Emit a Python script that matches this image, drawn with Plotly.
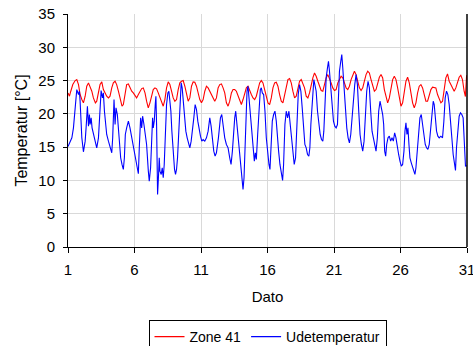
import plotly.graph_objects as go

# Zone 41 indoor temperature (day of month, °C)
zone_day = [1.0, 1.11, 1.21, 1.36, 1.54, 1.66, 1.79, 1.91, 2.04, 2.16, 2.29, 2.41, 2.54, 2.66, 2.79, 2.91,
            3.06, 3.16, 3.29, 3.41, 3.54, 3.66, 3.79, 3.91, 4.04, 4.16, 4.29, 4.41, 4.54, 4.66, 4.79, 4.91,
            5.06, 5.16, 5.29, 5.41, 5.54, 5.66, 5.79, 5.91, 6.04, 6.16, 6.29, 6.41, 6.54, 6.66, 6.79, 6.91,
            7.035, 7.16, 7.285, 7.41, 7.535, 7.66, 7.785, 7.91, 8.035, 8.16, 8.285, 8.41, 8.535, 8.66, 8.785,
            8.91, 9.035, 9.16, 9.285, 9.41, 9.535, 9.66, 9.785, 9.91, 10.035, 10.16, 10.285, 10.41, 10.535,
            10.66, 10.785, 10.91, 11.035, 11.16, 11.285, 11.41, 11.535, 11.66, 11.785, 11.91, 12.035, 12.16,
            12.285, 12.41, 12.535, 12.66, 12.785, 12.91, 13.035, 13.16, 13.285, 13.41, 13.535, 13.66, 13.785,
            13.91, 14.035, 14.16, 14.285, 14.41, 14.535, 14.66, 14.785, 14.91, 15.035, 15.16, 15.285, 15.41,
            15.535, 15.66, 15.785, 15.91, 16.035, 16.16, 16.285, 16.41, 16.535, 16.66, 16.785, 16.91, 17.035,
            17.16, 17.285, 17.41, 17.535, 17.66, 17.785, 17.91, 18.035, 18.16, 18.285, 18.41, 18.535, 18.66,
            18.785, 18.91, 19.035, 19.16, 19.285, 19.41, 19.535, 19.66, 19.785, 19.91, 20.035, 20.16, 20.285,
            20.41, 20.535, 20.66, 20.785, 20.91, 21.035, 21.16, 21.285, 21.41, 21.535, 21.66, 21.785, 21.91,
            22.035, 22.16, 22.285, 22.41, 22.535, 22.66, 22.785, 22.91, 23.035, 23.16, 23.285, 23.41, 23.535,
            23.66, 23.785, 23.91, 24.035, 24.16, 24.285, 24.41, 24.535, 24.66, 24.785, 24.91, 25.035, 25.16,
            25.285, 25.41, 25.535, 25.66, 25.785, 25.91, 26.035, 26.16, 26.285, 26.41, 26.535, 26.66, 26.785,
            26.91, 27.035, 27.16, 27.285, 27.41, 27.535, 27.66, 27.785, 27.91, 28.035, 28.16, 28.285, 28.41,
            28.535, 28.66, 28.785, 28.91, 29.035, 29.16, 29.285, 29.41, 29.535, 29.66, 29.785, 29.91, 30.035,
            30.16, 30.285, 30.41, 30.535, 30.66, 30.785, 30.88, 30.97]
zone_temp = [23.15, 22.65, 23.4, 24.4, 25.0, 25.15, 24.4, 22.9, 22.15, 21.65, 22.65, 24.15, 24.65, 24.15, 23.4, 22.4,
             21.65, 21.9, 23.4, 24.4, 24.8, 23.65, 23.15, 22.65, 22.4, 22.65, 23.9, 24.65, 24.9, 24.4, 23.4, 22.15,
             21.15, 21.4, 23.4, 24.4, 24.5, 23.9, 23.4, 23.15, 22.65, 22.4, 22.9, 23.4, 23.8, 23.9, 23.15, 21.9,
             20.9, 21.65, 22.9, 23.65, 23.9, 23.75, 23.15, 22.4, 21.65, 21.15, 22.15, 23.9, 24.8, 24.4, 23.4,
             22.4, 21.9, 22.15, 23.65, 24.65, 24.9, 25.0, 24.15, 22.9, 21.9, 22.4, 24.15, 24.8, 24.75,
             24.15, 23.15, 22.15, 21.65, 22.15, 23.4, 24.15, 23.9, 23.4, 22.9, 22.4, 21.9, 22.4,
             23.9, 24.4, 24.5, 23.9, 23.15, 21.65, 21.15, 21.9, 23.15, 23.65, 23.65, 23.4, 22.65,
             21.9, 21.4, 22.15, 23.15, 23.9, 24.15, 23.4, 22.9, 22.4, 22.15, 22.65, 23.9, 24.65,
             25.0, 24.65, 23.65, 22.65, 21.65, 21.4, 22.4, 23.9, 24.65, 24.75, 24.15, 22.9, 21.9,
             21.65, 22.9, 24.4, 25.15, 25.3, 24.65, 23.4, 22.4, 22.65, 23.9, 24.9, 25.15, 24.65,
             23.9, 22.65, 22.4, 23.15, 24.4, 25.4, 26.15, 25.65, 24.9, 24.15, 23.5, 23.4, 24.4,
             25.4, 25.9, 25.4, 24.65, 23.9, 23.5, 23.65, 24.65, 25.15, 25.65, 25.4, 24.65, 23.9,
             23.65, 24.15, 25.15, 25.9, 26.4, 25.9, 24.9, 23.9, 23.5, 23.9, 24.9, 25.9, 26.4,
             26.15, 25.15, 24.15, 23.4, 23.65, 24.65, 25.5, 25.9, 25.4, 23.65, 22.4, 21.65, 22.4,
             23.9, 25.15, 25.65, 25.15, 23.9, 22.15, 21.15, 21.65, 23.4, 24.9, 25.5, 24.65, 23.15,
             21.65, 20.9, 21.65, 23.15, 24.15, 24.4, 23.9, 22.9, 21.9, 21.9, 22.9, 23.65, 24.0,
             23.9, 23.9, 22.9, 22.15, 21.65, 21.9, 23.4, 25.4, 26.0, 24.9, 24.4, 23.9, 23.4,
             23.9, 24.9, 25.5, 25.8, 25.15, 23.4, 22.6, 25.8]

# Outdoor temperature (day of month, °C)
ude_day = [1.0, 1.29, 1.41, 1.54, 1.61, 1.66, 1.79, 1.86, 1.91, 1.99, 2.04, 2.16, 2.29, 2.36, 2.41, 2.46, 2.54,
           2.61, 2.66, 2.74, 2.81, 2.91, 3.04, 3.16, 3.29, 3.36, 3.41, 3.49, 3.59, 3.66, 3.74, 3.84, 3.91,
           4.04, 4.16, 4.29, 4.36, 4.41, 4.46, 4.54, 4.61, 4.71, 4.79, 4.86, 4.96, 5.06, 5.16, 5.24, 5.31,
           5.41, 5.54, 5.66, 5.79, 5.91, 6.04, 6.16, 6.29, 6.36, 6.46, 6.54, 6.61, 6.71, 6.79, 6.91,
           7.04, 7.11, 7.21, 7.285, 7.36, 7.41, 7.485, 7.56, 7.61, 7.66, 7.71, 7.735, 7.81, 7.86, 7.91,
           8.01, 8.085, 8.16, 8.235, 8.31, 8.41, 8.51, 8.585, 8.66, 8.735, 8.81, 8.91, 9.01, 9.085, 9.16,
           9.235, 9.31, 9.36, 9.435, 9.51, 9.585, 9.66, 9.76, 9.86, 9.96, 10.06, 10.16, 10.26, 10.36,
           10.46, 10.56, 10.66, 10.76, 10.86, 10.96, 11.06, 11.16, 11.285, 11.41, 11.535, 11.66, 11.76,
           11.86, 11.96, 12.06, 12.16, 12.31, 12.46, 12.56, 12.66, 12.785, 12.91, 13.035, 13.16, 13.26,
           13.36, 13.46, 13.535, 13.61, 13.71, 13.81, 13.91, 14.01, 14.085, 14.16, 14.235, 14.31, 14.385,
           14.46, 14.535, 14.61, 14.71, 14.81, 14.91, 15.01, 15.085, 15.16, 15.26, 15.36, 15.46, 15.535,
           15.61, 15.71, 15.81, 15.91, 16.01, 16.11, 16.185, 16.26, 16.36, 16.46, 16.56, 16.66, 16.735,
           16.835, 16.935, 17.035, 17.135, 17.21, 17.31, 17.41, 17.51, 17.61, 17.71, 17.81, 17.91, 18.01,
           18.11, 18.21, 18.31, 18.41, 18.51, 18.61, 18.71, 18.81, 18.91, 19.01, 19.11, 19.185, 19.26,
           19.335, 19.41, 19.485, 19.56, 19.66, 19.76, 19.86, 19.96, 20.06, 20.16, 20.235, 20.31, 20.41,
           20.51, 20.585, 20.66, 20.76, 20.86, 20.96, 21.06, 21.16, 21.26, 21.335, 21.41, 21.51, 21.585,
           21.66, 21.76, 21.86, 21.96, 22.06, 22.16, 22.26, 22.36, 22.46, 22.56, 22.66, 22.76, 22.86,
           22.96, 23.06, 23.16, 23.26, 23.36, 23.46, 23.56, 23.66, 23.76, 23.86, 23.96, 24.06, 24.16,
           24.26, 24.36, 24.46, 24.56, 24.66, 24.735, 24.81, 24.885, 24.96, 25.06, 25.16, 25.26, 25.36,
           25.46, 25.56, 25.66, 25.76, 25.86, 25.96, 26.06, 26.16, 26.26, 26.335, 26.41, 26.485, 26.56,
           26.635, 26.71, 26.81, 26.91, 27.01, 27.085, 27.16, 27.26, 27.36, 27.46, 27.56, 27.66, 27.76,
           27.86, 27.96, 28.06, 28.16, 28.26, 28.36, 28.46, 28.535, 28.61, 28.71, 28.81, 28.91, 29.035,
           29.16, 29.26, 29.36, 29.46, 29.56, 29.66, 29.76, 29.86, 29.96, 30.06, 30.135, 30.21, 30.31,
           30.41, 30.51, 30.61, 30.71, 30.81, 30.885, 31.0]
ude_temp = [15.1, 16.4, 17.9, 21.4, 23.4, 23.65, 22.9, 23.4, 21.9, 18.9, 16.4, 14.3, 15.9, 17.9, 20.9, 21.15, 18.15,
            19.9, 18.4, 19.4, 17.9, 16.9, 15.9, 14.9, 16.4, 18.9, 22.4, 23.5, 22.4, 23.15, 20.4, 18.4, 16.9,
            15.9, 14.9, 14.15, 16.4, 21.4, 22.15, 18.4, 20.9, 19.9, 17.4, 15.4, 13.4, 12.4, 11.65, 13.4, 16.9,
            17.9, 18.9, 17.9, 16.4, 14.9, 13.4, 11.9, 11.0, 14.9, 19.4, 17.9, 19.65, 18.4, 16.9, 15.4,
            11.4, 9.9, 11.9, 15.4, 19.4, 17.9, 18.9, 21.4, 22.65, 18.4, 12.4, 7.9, 10.9, 13.4, 11.4,
            10.9, 11.9, 10.4, 12.4, 16.4, 21.4, 23.15, 23.4, 21.9, 20.4, 17.4, 13.4, 11.65, 10.9, 11.65,
            13.4, 16.4, 20.4, 22.4, 24.65, 23.9, 21.9, 19.4, 17.4, 16.4, 15.65, 14.9, 15.9, 17.4,
            19.4, 21.4, 20.65, 18.9, 17.4, 16.65, 15.9, 16.15, 15.9, 16.4, 17.4, 19.4, 18.15,
            16.4, 14.4, 13.65, 14.15, 16.4, 19.4, 19.9, 18.15, 16.4, 15.4, 14.9, 13.4, 12.4,
            14.4, 17.9, 19.4, 20.4, 18.4, 16.4, 14.4, 12.4, 10.4, 8.65, 10.4, 15.4, 19.9,
            23.4, 24.15, 22.4, 19.9, 16.4, 14.4, 12.9, 14.15, 13.15, 16.9, 21.4, 23.65, 23.9,
            23.15, 22.9, 20.4, 16.4, 13.9, 12.4, 11.65, 14.9, 18.9, 19.9, 20.4, 18.9, 16.4,
            14.4, 12.4, 10.9, 10.0, 12.4, 18.4, 20.4, 19.4, 20.4, 18.4, 16.4, 14.4, 12.4,
            13.4, 18.4, 22.9, 24.4, 23.4, 20.9, 17.9, 15.4, 14.9, 13.9, 13.65, 14.9, 18.4,
            21.4, 23.9, 25.15, 24.4, 23.4, 20.4, 18.4, 16.9, 16.15, 15.9, 17.4, 21.4, 25.4,
            26.9, 27.9, 26.4, 23.4, 20.4, 18.9, 18.15, 17.9, 18.4, 22.4, 26.4, 27.9, 28.9,
            26.9, 23.9, 20.4, 17.9, 16.4, 15.65, 16.9, 19.9, 22.9, 24.4, 25.9, 24.4, 20.4,
            16.9, 15.4, 14.4, 15.9, 19.9, 23.4, 24.9, 23.9, 20.4, 17.4, 16.4, 15.4, 14.4,
            16.4, 20.4, 21.9, 20.9, 19.9, 18.4, 14.4, 13.65, 15.4, 16.4, 16.65, 15.9, 16.4,
            15.9, 17.15, 16.4, 14.9, 13.9, 12.9, 12.15, 12.4, 14.4, 17.4, 18.65, 16.9, 17.9,
            15.4, 13.4, 12.65, 11.9, 11.15, 10.9, 11.9, 14.4, 17.9, 19.4, 19.9, 18.4, 16.9,
            15.4, 14.9, 14.65, 15.4, 17.9, 20.4, 21.9, 21.4, 18.9, 17.4, 16.65, 16.4, 16.65,
            16.4, 18.9, 22.4, 23.4, 22.9, 21.4, 19.4, 16.4, 13.9, 12.4, 11.5, 14.9, 17.9,
            19.65, 20.15, 19.9, 19.4, 14.0, 12.15, 12.2]

x_ticks = [1, 6, 11, 16, 21, 26, 31]
y_ticks = [0, 5, 10, 15, 20, 25, 30, 35]

font_family = "Liberation Sans, Arial, sans-serif"

fig = go.Figure()
fig.add_trace(go.Scatter(x=zone_day, y=zone_temp, mode="lines", name="Zone 41",
                         line=dict(color="#ff0000", width=1.1)))
fig.add_trace(go.Scatter(x=ude_day, y=ude_temp, mode="lines", name="Udetemperatur",
                         line=dict(color="#0000ff", width=1.1)))

fig.update_layout(
    width=473, height=346,
    margin=dict(l=68, r=6, t=14, b=99, autoexpand=False),
    paper_bgcolor="white", plot_bgcolor="white",
    font=dict(family=font_family, size=15, color="black"),
    showlegend=True,
    legend=dict(orientation="h", xref="paper", yref="container",
                x=0.5, xanchor="center", y=1 - 320 / 346, yanchor="top",
                bordercolor="black", borderwidth=1, bgcolor="white",
                font=dict(size=14), itemwidth=30, tracegroupgap=0),
    xaxis=dict(range=[1, 31], tickvals=x_ticks, ticktext=[str(v) for v in x_ticks],
               showgrid=True, gridcolor="#d9d9d9", gridwidth=1,
               showline=True, linecolor="black", linewidth=1,
               ticks="outside", ticklen=5, tickcolor="black",
               ticklabelstandoff=4, ticklabeloverflow="allow",
               tickfont=dict(size=15), automargin=False,
               zeroline=False,
               title=dict(text="Dato", standoff=14, font=dict(size=15))),
    yaxis=dict(range=[0, 35], tickvals=y_ticks,
               showgrid=True, gridcolor="#d9d9d9", gridwidth=1,
               showline=True, linecolor="black", linewidth=1,
               ticks="outside", ticklen=4, tickcolor="black",
               ticklabelstandoff=5, automargin=False,
               tickfont=dict(size=15),
               zeroline=False,
               title=dict(text="Temperatur [°C]", standoff=6, font=dict(size=16))),
    shapes=[dict(type="line", xref="paper", yref="paper", x0=1, x1=1, y0=0, y1=1,
                 line=dict(color="black", width=1.5))],
)

fig.write_html("out.html")
